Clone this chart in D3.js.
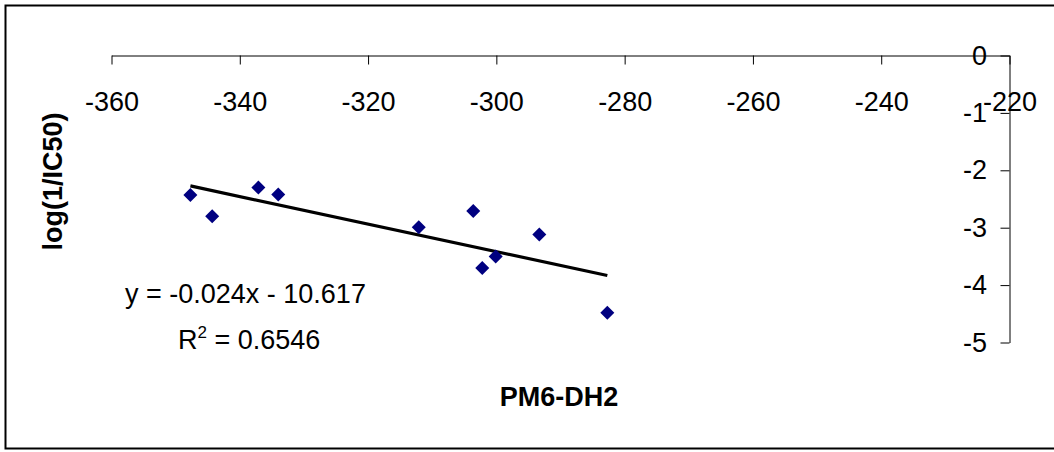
<!DOCTYPE html>
<html>
<head>
<meta charset="utf-8">
<script src="https://cdn.jsdelivr.net/npm/d3@7"></script>
<style>
  html, body { margin: 0; padding: 0; background: #fff; }
  svg { display: block; font-family: "Liberation Sans", Arial, sans-serif; }
</style>
</head>
<body>
<svg id="chart" width="1054" height="452"></svg>
<script>
// Data
const pm6dh2 = [-347.7, -344.3, -337.1, -334.0, -312.1, -303.6, -302.2, -300.1, -293.3, -282.7];
const logIC50 = [-2.43, -2.80, -2.30, -2.42, -2.99, -2.71, -3.70, -3.50, -3.12, -4.48];
const xTicks = [-360, -340, -320, -300, -280, -260, -240, -220];
const yTicks = [0, -1, -2, -3, -4, -5];
const trendSlope = -0.024;
const trendIntercept = -10.617;
const equationText = "y = -0.024x - 10.617";
const r2Value = "0.6546";
const xTitle = "PM6-DH2";
const yTitle = "log(1/IC50)";

const svg = d3.select("#chart");
const FS = 27;
const fmt = d => String(d); // plain hyphen-minus, as in the reference

// Outer frame
svg.append("rect")
  .attr("x", 5.5).attr("y", 5.5)
  .attr("width", 1100).attr("height", 443)
  .attr("fill", "none").attr("stroke", "#000").attr("stroke-width", 2);

const x = d3.scaleLinear().domain([-360, -220]).range([111.5, 1009.5]);
const y = d3.scaleLinear().domain([0, -5]).range([55.5, 342.5]);

// X axis at y = 0 (top), ticks pointing down into the plot
const xAxis = svg.append("g")
  .attr("transform", `translate(0,${y(0)})`)
  .call(d3.axisBottom(x).tickValues(xTicks).tickSize(9).tickSizeOuter(0).tickPadding(27)
        .tickFormat(fmt));
xAxis.selectAll("text").attr("font-size", FS).attr("fill", "#000")
  .attr("font-family", "'Liberation Sans', Arial, sans-serif");
xAxis.selectAll("line, path").attr("stroke", "#000");

// Y axis on the right at x = -220, ticks pointing left
const yAxis = svg.append("g")
  .attr("transform", `translate(${x(-220)},0)`)
  .call(d3.axisLeft(y).tickValues(yTicks).tickSize(9).tickSizeOuter(0).tickPadding(13.5)
        .tickFormat(fmt));
yAxis.selectAll("text").attr("font-size", FS).attr("fill", "#000")
  .attr("font-family", "'Liberation Sans', Arial, sans-serif");
yAxis.selectAll("line, path").attr("stroke", "#000");

// Trend line over data range
const xMin = d3.min(pm6dh2), xMax = d3.max(pm6dh2);
svg.append("line")
  .attr("x1", x(xMin)).attr("y1", y(trendSlope * xMin + trendIntercept))
  .attr("x2", x(xMax)).attr("y2", y(trendSlope * xMax + trendIntercept))
  .attr("stroke", "#000").attr("stroke-width", 3.2);

// Points (diamonds)
const pts = pm6dh2.map((v, i) => [v, logIC50[i]]);
svg.append("g").selectAll("path").data(pts).enter().append("path")
  .attr("transform", d => `translate(${x(d[0])},${y(d[1])})`)
  .attr("d", "M0,-7 L7,0 L0,7 L-7,0 Z")
  .attr("fill", "#000080");

// Trendline equation
svg.append("text")
  .attr("x", 125).attr("y", 303)
  .attr("font-size", FS).attr("fill", "#000")
  .text(equationText);
const r2 = svg.append("text")
  .attr("x", 178).attr("y", 349)
  .attr("font-size", FS).attr("fill", "#000");
r2.append("tspan").text("R");
r2.append("tspan").attr("font-size", 17).attr("dy", -11).text("2");
r2.append("tspan").attr("dy", 11).text(" = " + r2Value);

// Axis titles
svg.append("text")
  .attr("x", 559).attr("y", 405.5)
  .attr("text-anchor", "middle").attr("font-weight", "bold")
  .attr("font-size", FS).attr("fill", "#000")
  .text(xTitle);
svg.append("text")
  .attr("transform", "translate(62,181.5) rotate(-90)")
  .attr("text-anchor", "middle").attr("font-weight", "bold")
  .attr("font-size", FS).attr("fill", "#000")
  .text(yTitle);
</script>
</body>
</html>
